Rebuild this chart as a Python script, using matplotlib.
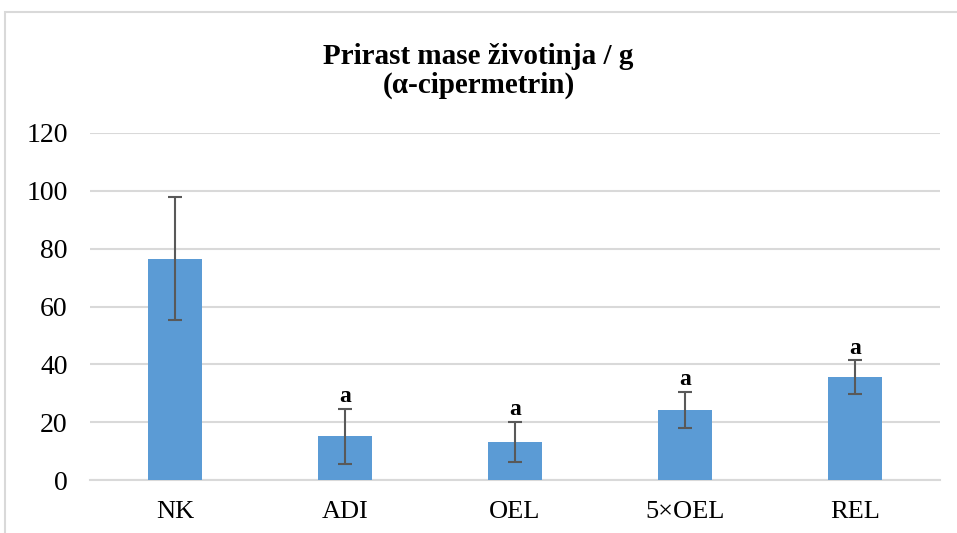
import matplotlib.pyplot as plt
from matplotlib.patches import Rectangle
import numpy as np

groups = ['NK', 'ADI', 'OEL', '5×OEL', 'REL']
means = [76.5, 15.1, 13.1, 24.2, 35.7]
errs = [21.3, 9.5, 7.0, 6.3, 5.8]
letters = ['', 'a', 'a', 'a', 'a']

plt.rcParams['font.family'] = ['Liberation Serif', 'DejaVu Serif']

fig = plt.figure(figsize=(9.57, 5.33), dpi=100)
# outer chart frame (Excel style)
fig.patches.append(Rectangle((5 / 957, -0.05), 1.1, (533 - 12) / 533 + 0.05,
                             transform=fig.transFigure, fill=False,
                             edgecolor='#d9d9d9', lw=1.5))

ax = fig.add_axes([90 / 957, 53 / 533, 850 / 957, 347 / 533])
x = np.arange(len(groups))
ax.bar(x, means, width=0.32, color='#5b9bd5', zorder=3)
ax.errorbar(x, means, yerr=errs, fmt='none', ecolor='#595959',
            elinewidth=1.5, capsize=5, capthick=1.5, zorder=4)

for xi, m, e, lab in zip(x, means, errs, letters):
    if lab:
        ax.annotate(lab, (xi, m + e), xytext=(0, 1), textcoords='offset points',
                    ha='center', va='bottom', fontsize=17, fontweight='bold')

ax.set_xlim(-0.5, len(groups) - 0.5)
ax.set_ylim(0, 120)
ax.set_yticks(range(0, 121, 20))
ax.set_xticks(x)
ax.set_xticklabels(groups)
ax.yaxis.grid(True, color='#d9d9d9', lw=1.5, zorder=0)
for s in ['top', 'right', 'left']:
    ax.spines[s].set_visible(False)
ax.spines['bottom'].set_color('#d9d9d9')
ax.spines['bottom'].set_linewidth(1.5)
ax.tick_params(axis='both', length=0, labelsize=19, colors='#000000')
ax.tick_params(axis='y', labelsize=20, pad=16)
ax.tick_params(axis='x', pad=15)

fig.text(0.5, 1 - 71 / 533, 'Prirast mase životinja / g\n(α-cipermetrin)',
         ha='center', va='center', fontsize=21, fontweight='bold',
         linespacing=1.12)

fig.savefig('out.png', dpi=100)
